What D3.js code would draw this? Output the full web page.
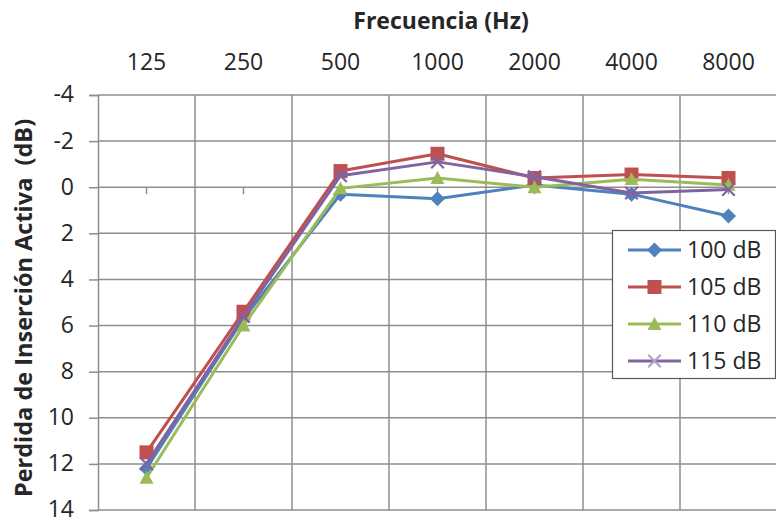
<!DOCTYPE html>
<html>
<head>
<meta charset="utf-8">
<script src="https://cdn.jsdelivr.net/npm/d3@7/dist/d3.min.js"></script>
<style>
  html, body { margin: 0; padding: 0; background: #fff; }
  svg { display: block; }
  text { font-family: "Open Sans", "Liberation Sans", sans-serif; fill: #262626; }
</style>
</head>
<body>
<svg id="chart" width="776" height="521"></svg>
<script>
// Frequencies (category axis) and active insertion loss per stimulus level
const frequencies = ["125", "250", "500", "1000", "2000", "4000", "8000"];
const yTicks = [-4, -2, 0, 2, 4, 6, 8, 10, 12, 14];
const seriesNames = ["100 dB", "105 dB", "110 dB", "115 dB"];
const loss100 = [12.2, 5.7, 0.3, 0.5, -0.1, 0.3, 1.25];
const loss105 = [11.5, 5.4, -0.7, -1.45, -0.4, -0.55, -0.4];
const loss110 = [12.6, 6.0, 0.05, -0.4, 0.0, -0.35, -0.1];
const loss115 = [12.0, 5.6, -0.5, -1.1, -0.45, 0.25, 0.1];

const seriesValues = [loss100, loss105, loss110, loss115];
const colors = ["#4F81BD", "#C0504D", "#9BBB59", "#8064A2"];
const markers = ["diamond", "square", "triangle", "cross"];

const series = seriesNames.map((name, i) => ({
  name, color: colors[i], marker: markers[i],
  values: seriesValues[i].map((v, j) => ({ f: frequencies[j], v }))
}));

const svg = d3.select("#chart");
const plot = { left: 98, right: 777, top: 95, bottom: 510 };

const x = d3.scaleBand().domain(frequencies).range([plot.left, plot.right]).padding(0);
const y = d3.scaleLinear().domain([-4, 14]).range([plot.top, plot.bottom]);
const xc = f => x(f) + x.bandwidth() / 2;

const gridColor = "#8e8e8e";

// horizontal gridlines
svg.append("g").selectAll("line").data(yTicks).join("line")
  .attr("x1", plot.left).attr("x2", plot.right)
  .attr("y1", d => y(d)).attr("y2", d => y(d))
  .attr("stroke", gridColor).attr("stroke-width", 1.5);

// vertical gridlines at category boundaries
svg.append("g").selectAll("line").data(frequencies.slice(1)).join("line")
  .attr("x1", d => x(d)).attr("x2", d => x(d))
  .attr("y1", plot.top).attr("y2", plot.bottom)
  .attr("stroke", gridColor).attr("stroke-width", 1.5);

// value axis (left), labels written with a plain hyphen
const yAxis = d3.axisLeft(y).tickValues(yTicks).tickSize(9).tickPadding(15).tickFormat(d => String(d));
const gy = svg.append("g").attr("transform", `translate(${plot.left},0)`).call(yAxis);
gy.select(".domain").attr("stroke", gridColor).attr("stroke-width", 1.5);
gy.selectAll(".tick line").attr("stroke", gridColor).attr("stroke-width", 1.5);
gy.selectAll(".tick text").attr("font-size", 23).attr("fill", "#262626").attr("dy", "0.3em")
  .attr("font-family", "'Open Sans', sans-serif");

// category axis crossing at 0, labels placed above the plot
svg.append("g").selectAll("line").data(frequencies).join("line")
  .attr("x1", d => xc(d)).attr("x2", d => xc(d))
  .attr("y1", y(0)).attr("y2", y(0) + 7)
  .attr("stroke", gridColor).attr("stroke-width", 1.5);

svg.append("g").selectAll("text").data(frequencies).join("text")
  .attr("x", d => xc(d)).attr("y", 70)
  .attr("text-anchor", "middle").attr("font-size", 23)
  .text(d => d);

svg.append("text")
  .attr("x", 441).attr("y", 29)
  .attr("text-anchor", "middle").attr("font-size", 23).attr("font-weight", "bold")
  .text("Frecuencia (Hz)");

svg.append("text")
  .attr("transform", "translate(32,308) rotate(-90)")
  .attr("text-anchor", "middle").attr("font-size", 23.5).attr("font-weight", "bold")
  .attr("xml:space", "preserve")
  .text("Perdida de Inserción Activa  (dB)");

// marker drawing
function drawMarker(g, type, color, size) {
  const h = size / 2;
  if (type === "diamond") {
    g.append("path").attr("d", `M0,${-h}L${h},0L0,${h}L${-h},0Z`).attr("fill", color);
  } else if (type === "square") {
    g.append("rect").attr("x", -h).attr("y", -h).attr("width", size).attr("height", size).attr("fill", color);
  } else if (type === "triangle") {
    g.append("path").attr("d", `M0,${-h}L${h},${h * 0.85}L${-h},${h * 0.85}Z`).attr("fill", color);
  } else {
    const k = h * 0.9;
    g.append("path").attr("d", `M${-k},${-k}L${k},${k}M${-k},${k}L${k},${-k}`)
      .attr("stroke", color).attr("stroke-width", 2.2).attr("fill", "none");
  }
}

const line = d3.line().x(d => xc(d.f)).y(d => y(d.v));

series.forEach(s => {
  const g = svg.append("g");
  g.append("path").attr("d", line(s.values))
    .attr("fill", "none").attr("stroke", s.color).attr("stroke-width", 3)
    .attr("stroke-linejoin", "round");
  s.values.forEach(d => {
    const m = g.append("g").attr("transform", `translate(${xc(d.f)},${y(d.v)})`);
    drawMarker(m, s.marker, s.color, s.marker === "diamond" ? 15 : 14);
  });
});

// legend
const legend = svg.append("g");
legend.append("rect").attr("x", 612.5).attr("y", 230.5).attr("width", 163).attr("height", 148)
  .attr("fill", "#fff").attr("stroke", "#595959").attr("stroke-width", 1.2);
const rowY = [250, 287, 324, 361];
series.forEach((s, i) => {
  const gy2 = rowY[i];
  legend.append("line").attr("x1", 628).attr("x2", 681).attr("y1", gy2).attr("y2", gy2)
    .attr("stroke", s.color).attr("stroke-width", 3);
  const m = legend.append("g").attr("transform", `translate(654.5,${gy2})`);
  drawMarker(m, s.marker, s.marker === "cross" ? "#b3a2c7" : s.color, s.marker === "diamond" ? 15 : 14);
  legend.append("text").attr("x", 687).attr("y", gy2 + 8).attr("font-size", 23).text(s.name);
});
</script>
</body>
</html>
